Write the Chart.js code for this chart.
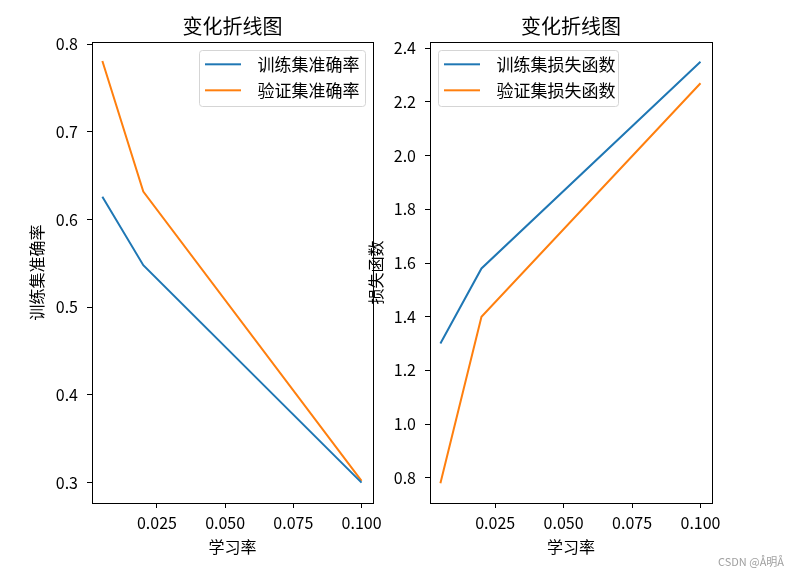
<!DOCTYPE html>
<html>
<head>
<meta charset="utf-8">
<script src="https://cdn.jsdelivr.net/npm/chart.js@4/dist/chart.umd.min.js"></script>
<style>
  html, body { margin: 0; padding: 0; background: #fff; overflow: hidden; }
  #wrap { position: relative; width: 797px; height: 576px; }
  #accChart { position: absolute; left: 0; top: 0; }
  #lossChart { position: absolute; left: 360px; top: 0; }
  #mark { position: absolute; left: 718px; top: 553px; font: 11px 'Noto Sans CJK SC', sans-serif; color: #a0a0a0; }
</style>
</head>
<body>
<div id="wrap">
  <canvas id="accChart" width="400" height="576"></canvas>
  <canvas id="lossChart" width="437" height="576"></canvas>
  <div id="mark">CSDN @Å明Å</div>
</div>
<script>
// data
const learningRates = [0.005, 0.02, 0.1];
const trainAcc = [0.626, 0.548, 0.300];
const valAcc = [0.781, 0.632, 0.302];
const trainLoss = [1.30, 1.58, 2.35];
const valLoss = [0.78, 1.40, 2.27];

const xTicks = [0.025, 0.05, 0.075, 0.1];
const accTicks = [0.3, 0.4, 0.5, 0.6, 0.7, 0.8];
const lossTicks = [0.8, 1.0, 1.2, 1.4, 1.6, 1.8, 2.0, 2.2, 2.4];

const BLUE = '#1f77b4';
const ORANGE = '#ff7f0e';
const FONT = "'Noto Sans CJK SC', 'Noto Sans', sans-serif";

Chart.defaults.font.family = FONT;
Chart.defaults.color = '#000';

// legend sample: a short line followed by some blank space
function sampleLine(color) {
  const c = document.createElement('canvas');
  c.width = 44;
  c.height = 4;
  const g = c.getContext('2d');
  g.strokeStyle = color;
  g.lineWidth = 2;
  g.beginPath();
  g.moveTo(0, 2);
  g.lineTo(36, 2);
  g.stroke();
  return c;
}

// box around the axes + legend frame
const framePlugin = {
  id: 'frame',
  afterLayout(chart, args, opts) {
    const a = chart.chartArea;
    const lg = chart.legend;
    const frameLeft = opts.side === 'right' ? a.right - 8 - opts.w : a.left + 8;
    lg.left = frameLeft - 3;
    lg.top = a.top + 4.8;
    lg.right = lg.left + lg.width;
    lg.bottom = a.bottom;
    opts._box = { x: frameLeft, y: a.top + 8, w: opts.w, h: 56 };
  },
  beforeDraw(chart, args, opts) {
    const b = opts._box;
    if (!b) return;
    const ctx = chart.ctx;
    ctx.save();
    ctx.beginPath();
    ctx.roundRect(b.x + 0.5, b.y + 0.5, b.w, b.h, 3);
    ctx.fillStyle = 'rgba(255,255,255,0.8)';
    ctx.fill();
    ctx.strokeStyle = '#d5d5d5';
    ctx.lineWidth = 1;
    ctx.stroke();
    ctx.restore();
  },
  afterDraw(chart) {
    const a = chart.chartArea;
    const ctx = chart.ctx;
    ctx.save();
    ctx.strokeStyle = '#000';
    ctx.lineWidth = 1;
    ctx.strokeRect(Math.round(a.left) + 0.5, Math.round(a.top) + 0.5,
      Math.round(a.right - a.left), Math.round(a.bottom - a.top));
    ctx.restore();
  }
};

function makeChart(id, labels, series, yTicks, yMin, yMax, yTitle, opts) {
  return new Chart(document.getElementById(id), {
    type: 'line',
    data: {
      datasets: [
        { label: labels[0], data: learningRates.map((x, i) => ({ x: x, y: series[0][i] })),
          borderColor: BLUE, backgroundColor: BLUE, borderWidth: 2, pointRadius: 0, tension: 0,
          pointStyle: sampleLine(BLUE) },
        { label: labels[1], data: learningRates.map((x, i) => ({ x: x, y: series[1][i] })),
          borderColor: ORANGE, backgroundColor: ORANGE, borderWidth: 2, pointRadius: 0, tension: 0,
          pointStyle: sampleLine(ORANGE) }
      ]
    },
    options: {
      responsive: false,
      animation: false,
      devicePixelRatio: 1,
      layout: { padding: { left: 0, right: opts.padRight, top: 0, bottom: 0 } },
      plugins: {
        title: {
          display: true,
          fullSize: false,
          text: '变化折线图',
          font: { size: 20, weight: 'normal' },
          padding: { top: 14, bottom: 4 }
        },
        legend: {
          position: 'chartArea',
          align: 'start',
          labels: {
            usePointStyle: true,
            pointStyleWidth: 44,
            boxHeight: 4,
            padding: 9,
            font: { size: 17 },
            color: '#000'
          }
        },
        tooltip: { enabled: false },
        frame: { side: opts.legendSide, w: opts.legendW }
      },
      scales: {
        x: {
          type: 'linear',
          min: 0.0012,
          max: 0.1042,
          afterBuildTicks: s => { s.ticks = xTicks.map(v => ({ value: v })); },
          afterFit: s => { s.height = 73; },
          ticks: { callback: v => v.toFixed(3), font: { size: 16 }, padding: 5, maxRotation: 0, color: '#000' },
          grid: { drawOnChartArea: false, drawTicks: true, tickLength: 5, color: '#000' },
          border: { display: false },
          title: { display: true, text: '学习率', font: { size: 16 }, padding: { top: 0, bottom: 19 }, color: '#000' }
        },
        y: {
          type: 'linear',
          min: yMin,
          max: yMax,
          afterBuildTicks: s => { s.ticks = yTicks.map(v => ({ value: v })); },
          afterFit: s => { s.width = opts.yWidth; },
          ticks: { callback: v => v.toFixed(1), font: { size: 16 }, padding: 9, color: '#000' },
          grid: { drawOnChartArea: false, drawTicks: true, tickLength: 5, color: '#000' },
          border: { display: false },
          title: { display: true, text: yTitle, font: { size: 16 }, padding: { top: opts.yTitlePad, bottom: 0 }, color: '#000' }
        }
      }
    },
    plugins: [framePlugin]
  });
}

// left: accuracy
const accChart = makeChart('accChart', ['训练集准确率', '验证集准确率'], [trainAcc, valAcc],
  accTicks, 0.2768, 0.8026, '训练集准确率',
  { padRight: 27, yWidth: 92, yTitlePad: 27, legendSide: 'right', legendW: 166 });

// right: loss
const lossChart = makeChart('lossChart', ['训练集损失函数', '验证集损失函数'], [trainLoss, valLoss],
  lossTicks, 0.706, 2.4235, '损失函数',
  { padRight: 85, yWidth: 70, yTitlePad: 6, legendSide: 'left', legendW: 180 });
</script>
</body>
</html>
